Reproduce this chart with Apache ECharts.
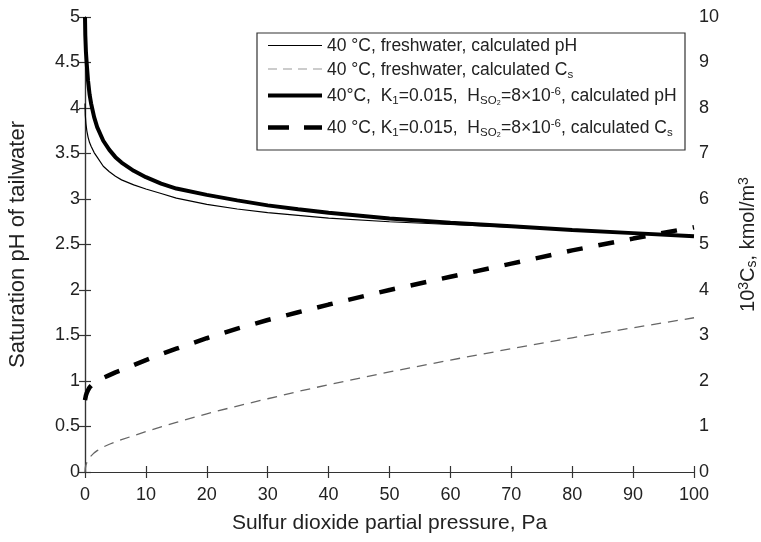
<!DOCTYPE html>
<html>
<head>
<meta charset="utf-8">
<script src="https://cdn.jsdelivr.net/npm/echarts@6/dist/echarts.min.js"></script>
<style>
  html, body { margin: 0; padding: 0; background: #fff; }
  #chart { width: 761px; height: 542px; }
</style>
</head>
<body>
<div id="chart"></div>
<script>
// SO2 partial pressure (Pa) at which each curve is sampled
const pressure = [0, 0.05, 0.15, 0.3, 0.5, 0.75, 1, 1.5, 2, 3, 4, 5, 6, 8, 10, 12.5, 15, 20, 25, 30, 35, 40, 50, 60, 70, 80, 90, 100];

// saturation pH, freshwater at 40 °C (left axis)
const phFresh = [4.05, 3.92, 3.83, 3.75, 3.68, 3.62, 3.58, 3.51, 3.46, 3.36, 3.30, 3.25, 3.21, 3.155, 3.11, 3.06, 3.01, 2.94, 2.89, 2.85, 2.82, 2.79, 2.75, 2.72, 2.69, 2.66, 2.625, 2.59];
// 10^3 Cs, freshwater at 40 °C (right axis)
const csFresh = [0, 0.08, 0.15, 0.21, 0.27, 0.32, 0.36, 0.42, 0.47, 0.55, 0.61, 0.66, 0.71, 0.80, 0.89, 0.99, 1.09, 1.28, 1.45, 1.61, 1.77, 1.92, 2.20, 2.46, 2.71, 2.95, 3.17, 3.39];
// saturation pH with K1 = 0.015, H_SO2 = 8e-6 (left axis)
const phK1 = [5.0, 4.80, 4.62, 4.47, 4.30, 4.15, 4.05, 3.90, 3.79, 3.64, 3.54, 3.46, 3.40, 3.31, 3.24, 3.17, 3.115, 3.045, 2.985, 2.93, 2.887, 2.85, 2.785, 2.74, 2.70, 2.66, 2.625, 2.59];
// 10^3 Cs with K1 = 0.015, H_SO2 = 8e-6 (right axis)
const csK1 = [1.58, 1.62, 1.68, 1.74, 1.80, 1.86, 1.90, 1.96, 2.00, 2.07, 2.13, 2.19, 2.24, 2.35, 2.46, 2.59, 2.71, 2.94, 3.15, 3.34, 3.51, 3.68, 4.00, 4.29, 4.58, 4.87, 5.13, 5.38];

const xTicks = { min: 0, max: 100, interval: 10 };
const leftTicks = { min: 0, max: 5, interval: 0.5 };
const rightTicks = { min: 0, max: 10, interval: 1 };

// legend rows, in the order the series are listed
const legendLabels = [
  '40 °C, freshwater, calculated pH',
  '40 °C, freshwater, calculated C{sub|s}',
  '40°C,  K{sub|1}=0.015,  H{sub|SO₂}=8×10{sup|-6}, calculated pH',
  '40 °C, K{sub|1}=0.015,  H{sub|SO₂}=8×10{sup|-6}, calculated C{sub|s}'
];

const pairs = ys => pressure.map((p, i) => [p, ys[i]]);

const FONT = '"Liberation Sans", Arial, sans-serif';
const AXIS_COLOR = '#333';
const TEXT_COLOR = '#222';

// line appearance of each curve
const styles = [
  { color: '#000', width: 1.2, type: 'solid' },
  { color: '#666', width: 1.3, type: [10, 7] },
  { color: '#000', width: 4, type: 'solid' },
  { color: '#000', width: 4.5, type: [16, 16] }
];
// short line samples shown in the legend box
const legendSampleStyles = [
  { stroke: '#000', lineWidth: 1.2 },
  { stroke: '#999', lineWidth: 1.2, lineDash: [9, 6] },
  { stroke: '#000', lineWidth: 4 },
  { stroke: '#000', lineWidth: 4.5, lineDash: [21, 15] }
];

const baseAxis = {
  axisLine: { show: true, lineStyle: { color: AXIS_COLOR, width: 1.2 } },
  axisTick: { show: true, inside: true, length: 6, lineStyle: { color: AXIS_COLOR, width: 1.2 } },
  splitLine: { show: false },
  axisLabel: { color: TEXT_COLOR, fontFamily: FONT, fontSize: 18 }
};

const richSmall = size => ({
  sub: { fontFamily: FONT, fontSize: size, fill: TEXT_COLOR, verticalAlign: 'bottom', lineHeight: 10 },
  sup: { fontFamily: FONT, fontSize: size, fill: TEXT_COLOR, verticalAlign: 'top', lineHeight: 10 }
});

// legend box drawn as graphic elements
const legendBox = { x: 257, y: 33, w: 428, h: 117 };
const rowY = [45.5, 69, 95.5, 127.5];
const legendGraphic = [{
  type: 'rect', z: 100,
  shape: { x: legendBox.x, y: legendBox.y, width: legendBox.w, height: legendBox.h },
  style: { fill: '#fff', stroke: '#333', lineWidth: 1.2 }
}];
legendLabels.forEach((label, i) => {
  legendGraphic.push({
    type: 'line', z: 101,
    shape: { x1: 268, y1: rowY[i], x2: 322, y2: rowY[i] },
    style: legendSampleStyles[i]
  });
  legendGraphic.push({
    type: 'text', z: 101,
    x: 327, y: rowY[i] + 1,
    style: {
      text: label, fill: TEXT_COLOR, fontFamily: FONT, fontSize: 17.5,
      lineHeight: 21, verticalAlign: 'middle', align: 'left',
      rich: richSmall(11.5)
    }
  });
});

const chart = echarts.init(document.getElementById('chart'), null, { renderer: 'canvas' });

chart.setOption({
  animation: false,
  backgroundColor: '#fff',
  grid: { left: 85, right: 67, top: 17, bottom: 70, containLabel: false, outerBoundsMode: 'none' },
  xAxis: [
    Object.assign({}, baseAxis, {
      type: 'value', position: 'bottom',
      min: xTicks.min, max: xTicks.max, interval: xTicks.interval,
      axisLabel: Object.assign({}, baseAxis.axisLabel, { margin: 14 }),
      name: 'Sulfur dioxide partial pressure, Pa',
      nameLocation: 'middle', nameGap: 41,
      nameTextStyle: { color: TEXT_COLOR, fontFamily: FONT, fontSize: 21 }
    }),
    Object.assign({}, baseAxis, {
      type: 'value', position: 'top',
      min: xTicks.min, max: xTicks.max, interval: xTicks.interval,
      axisLabel: { show: false }
    })
  ],
  yAxis: [
    Object.assign({}, baseAxis, {
      type: 'value', position: 'left',
      min: leftTicks.min, max: leftTicks.max, interval: leftTicks.interval,
      axisLabel: Object.assign({}, baseAxis.axisLabel, { margin: 5 }),
      name: 'Saturation pH of tailwater',
      nameLocation: 'middle', nameGap: 56, nameRotate: 90,
      nameTextStyle: { color: TEXT_COLOR, fontFamily: FONT, fontSize: 22 }
    }),
    Object.assign({}, baseAxis, {
      type: 'value', position: 'right',
      min: rightTicks.min, max: rightTicks.max, interval: rightTicks.interval,
      axisLabel: Object.assign({}, baseAxis.axisLabel, { margin: 5 }),
      name: '10{sup|3}C{sub|s}, kmol/m{sup|3}',
      nameLocation: 'middle', nameGap: 43, nameRotate: 90,
      nameTextStyle: {
        color: TEXT_COLOR, fontFamily: FONT, fontSize: 20, lineHeight: 22,
        rich: {
          sup: { fontFamily: FONT, fontSize: 14, color: TEXT_COLOR, verticalAlign: 'top', lineHeight: 12 },
          sub: { fontFamily: FONT, fontSize: 14, color: TEXT_COLOR, verticalAlign: 'bottom', lineHeight: 10 }
        }
      }
    })
  ],
  graphic: legendGraphic,
  series: [phFresh, csFresh, phK1, csK1].map((ys, i) => ({
    name: legendLabels[i],
    type: 'line',
    xAxisIndex: 0,
    yAxisIndex: (i % 2 === 0) ? 0 : 1,
    data: pairs(ys),
    symbol: 'none',
    smooth: false,
    lineStyle: { color: styles[i].color, width: styles[i].width, type: styles[i].type },
    itemStyle: { color: styles[i].color }
  }))
});
</script>
</body>
</html>
